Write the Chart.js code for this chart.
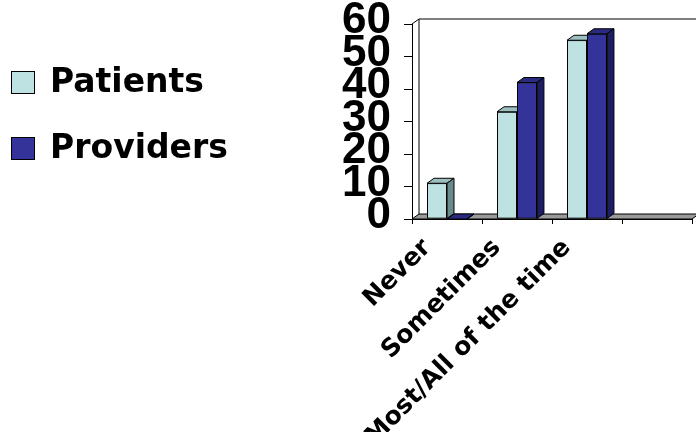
<!DOCTYPE html>
<html>
<head>
<meta charset="utf-8">
<title>Patients vs Providers</title>
<script src="https://cdn.jsdelivr.net/npm/chart.js@4.4.1/dist/chart.umd.min.js"></script>
<style>
  html, body { margin: 0; padding: 0; background: #ffffff; }
  #wrap { width: 696px; height: 432px; }
</style>
</head>
<body>
<div id="wrap"><canvas id="chart" width="696" height="432"></canvas></div>
<script>
// ---- data ----
const categories = ['Never', 'Sometimes', 'Most/All of the time', ''];
const patients   = [11, 33, 55, null];
const providers  = [0, 42, 57, null];
const yTicks     = [0, 10, 20, 30, 40, 50, 60];

// ---- look ----
const DEPTH_X = 7;      // receding offset of the 3-D columns
const DEPTH_Y = -5;
const PLOT_LEFT = 412;  // x of the value axis
const LEGEND_X = 11, LEGEND_TOP = 71, LEGEND_STEP = 66;
const LEGEND_BOX_W = 24, LEGEND_BOX_H = 23;
const LEGEND_FONT = "bold 33px 'DejaVu Sans', sans-serif";
const faces = {
  Patients:  { front: '#BEE2E2', top: '#9DBFBF', side: '#6A8A8A' },
  Providers: { front: '#333399', top: '#2A2A80', side: '#1E1E5E' }
};

function poly(ctx, pts, fill) {
  ctx.beginPath();
  ctx.moveTo(pts[0][0], pts[0][1]);
  for (let i = 1; i < pts.length; i++) ctx.lineTo(pts[i][0], pts[i][1]);
  ctx.closePath();
  ctx.fillStyle = fill;
  ctx.fill();
  ctx.stroke();
}

// floor, back wall and the extruded faces of each column
const depthPlugin = {
  id: 'depth',
  beforeDatasetsDraw(chart) {
    const { ctx, chartArea: a } = chart;
    ctx.save();
    ctx.lineWidth = 1;
    ctx.strokeStyle = '#000';
    poly(ctx, [
      [a.left, a.bottom], [a.right, a.bottom],
      [a.right + DEPTH_X, a.bottom + DEPTH_Y], [a.left + DEPTH_X, a.bottom + DEPTH_Y]
    ], '#9A9A9A');
    ctx.beginPath();
    ctx.moveTo(a.left + DEPTH_X, a.bottom + DEPTH_Y);
    ctx.lineTo(a.left + DEPTH_X, a.top + DEPTH_Y);
    ctx.lineTo(chart.width, a.top + DEPTH_Y);
    ctx.moveTo(a.left, a.top);
    ctx.lineTo(a.left + DEPTH_X, a.top + DEPTH_Y);
    ctx.stroke();
    ctx.restore();
  },
  afterDatasetsDraw(chart) {
    const ctx = chart.ctx;
    ctx.save();
    chart.data.datasets.forEach((ds, i) => {
      const meta = chart.getDatasetMeta(i);
      if (meta.hidden) return;
      const c = faces[ds.label];
      meta.data.forEach((bar, j) => {
        if (ds.data[j] === null || ds.data[j] === undefined) return;
        const { x, y, base, width } = bar.getProps(['x', 'y', 'base', 'width'], true);
        bar.draw(ctx);
        const l = x - width / 2, r = x + width / 2;
        ctx.lineWidth = 1;
        ctx.strokeStyle = '#000';
        poly(ctx, [[l, y], [l + DEPTH_X, y + DEPTH_Y], [r + DEPTH_X, y + DEPTH_Y], [r, y]], c.top);
        poly(ctx, [[r, y], [r + DEPTH_X, y + DEPTH_Y], [r + DEPTH_X, base + DEPTH_Y], [r, base]], c.side);
      });
    });
    ctx.restore();
  }
};

// series key at the left, built from the chart's own legend items
const sideLegend = {
  id: 'sideLegend',
  afterDraw(chart) {
    const ctx = chart.ctx;
    const items = Chart.defaults.plugins.legend.labels.generateLabels(chart);
    ctx.save();
    items.forEach((it, i) => {
      const top = LEGEND_TOP + i * LEGEND_STEP;
      ctx.fillStyle = it.fillStyle;
      ctx.fillRect(LEGEND_X, top, LEGEND_BOX_W, LEGEND_BOX_H);
      ctx.lineWidth = 1;
      ctx.strokeStyle = '#000';
      ctx.strokeRect(LEGEND_X + 0.5, top + 0.5, LEGEND_BOX_W - 1, LEGEND_BOX_H - 1);
      ctx.font = LEGEND_FONT;
      ctx.fillStyle = '#000';
      ctx.textAlign = 'left';
      ctx.textBaseline = 'middle';
      ctx.fillText(it.text, LEGEND_X + LEGEND_BOX_W + 15, top + LEGEND_BOX_H / 2 + 1);
    });
    ctx.restore();
  }
};

const bold = (family, size, lineHeight) => ({ family, size, weight: 'bold', lineHeight: lineHeight || 1 });

new Chart(document.getElementById('chart'), {
  type: 'bar',
  data: {
    labels: categories,
    datasets: [
      {
        label: 'Patients', data: patients,
        backgroundColor: faces.Patients.front, borderColor: '#000', borderWidth: 1,
        borderSkipped: false, categoryPercentage: 0.57, barPercentage: 1.0
      },
      {
        label: 'Providers', data: providers,
        backgroundColor: faces.Providers.front, borderColor: '#000', borderWidth: 1,
        borderSkipped: false, categoryPercentage: 0.57, barPercentage: 1.0
      }
    ]
  },
  options: {
    responsive: false,
    animation: false,
    events: [],
    layout: { padding: { left: 0, top: 24, right: 4, bottom: 0 } },
    plugins: {
      tooltip: { enabled: false },
      legend: { display: false }
    },
    scales: {
      x: {
        grid: { display: true, offset: true, drawOnChartArea: false, drawTicks: true, tickLength: 5, color: '#000' },
        border: { display: true, color: '#000', width: 1 },
        ticks: {
          autoSkip: false, minRotation: 45, maxRotation: 45, color: '#000',
          padding: 11, labelOffset: -20,
          font: bold("'DejaVu Sans', sans-serif", 25)
        },
        afterFit(s) { s.height = 213; }
      },
      y: {
        min: 0, max: 60,
        afterBuildTicks(s) { s.ticks = yTicks.map(v => ({ value: v })); },
        grid: { display: true, drawOnChartArea: false, drawTicks: true, tickLength: 8, color: '#000' },
        border: { display: true, color: '#000', width: 1 },
        ticks: {
          autoSkip: false, color: '#000', padding: 13, labelOffset: -3,
          font: bold("'Liberation Sans', Arial, sans-serif", 44, 0.5)
        },
        afterFit(s) { s.width = PLOT_LEFT; }
      }
    }
  },
  plugins: [depthPlugin, sideLegend]
});
</script>
</body>
</html>
